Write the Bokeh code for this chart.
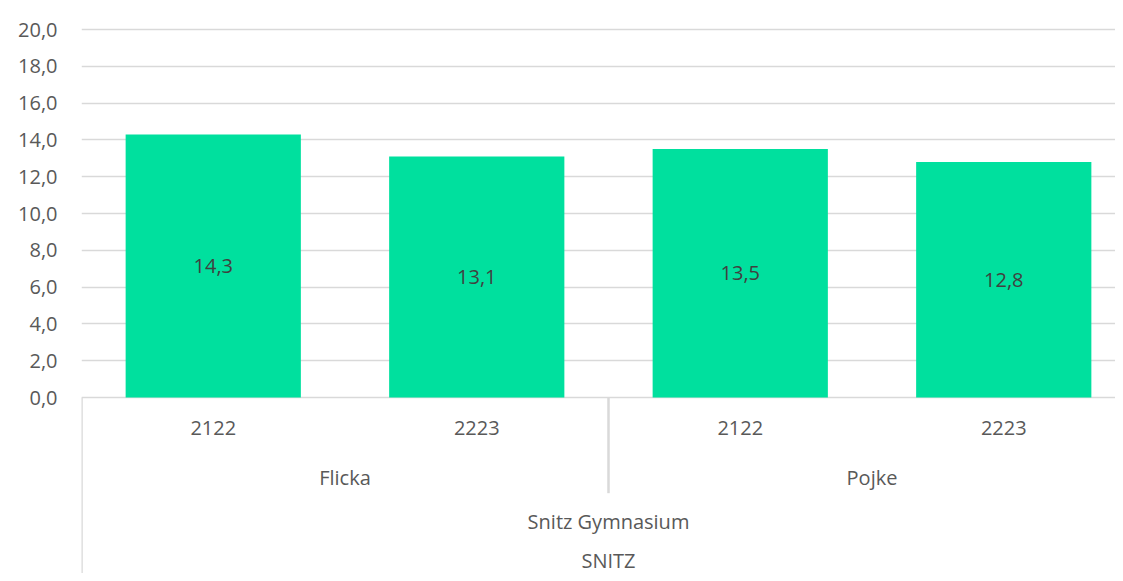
from bokeh.plotting import figure
from bokeh.models import Range1d, FixedTicker, ColumnDataSource
from bokeh.core.properties import value
from bokeh.embed import file_html
from bokeh.resources import INLINE

# ---- data ----
years = ["2122", "2223", "2122", "2223"]
groups = ["Flicka", "Flicka", "Pojke", "Pojke"]
school = "Snitz Gymnasium"
code = "SNITZ"
values = [14.3, 13.1, 13.5, 12.8]
y_ticks = [0, 2, 4, 6, 8, 10, 12, 14, 16, 18, 20]

FONT = "Open Sans"
TXT = "#595959"
GRID = "#d9d9d9"
BAR = "#00E09E"
FS = "20px"

W, H = 1115, 573
BL = 81
PX = 18.4          # px per unit
ZERO = 397          # zero line, px from figure top
CAT = 263.5         # px per category

n = len(values)
xc = [i + 0.5 for i in range(n)]
labels = [f"{v:.1f}".replace(".", ",") for v in values]

p = figure(width=W, height=H, output_backend="svg", toolbar_location=None,
           x_range=Range1d(0, (W - BL) / CAT),
           y_range=Range1d(-(H - ZERO) / PX, ZERO / PX),
           min_border_left=BL, min_border_right=0, min_border_top=0, min_border_bottom=0)
p.outline_line_color = None
p.background_fill_color = "white"
p.border_fill_color = "white"

# grid
p.xgrid.visible = False
p.ygrid.ticker = FixedTicker(ticks=y_ticks)
p.ygrid.grid_line_color = GRID
p.ygrid.grid_line_width = 1.5

p.xaxis.visible = False
yax = p.yaxis[0]
yax.ticker = FixedTicker(ticks=y_ticks)
yax.major_label_overrides = {t: f"{t:.1f}".replace(".", ",") for t in y_ticks}
yax.axis_line_color = None
yax.major_tick_line_color = None
yax.minor_tick_line_color = None
yax.major_label_text_font = FONT
yax.major_label_text_font_size = FS
yax.major_label_text_color = TXT
yax.major_label_standoff = 18

# bars
src = ColumnDataSource(dict(x=xc, top=values, half=[v / 2 for v in values], lab=labels,
                            yr=years, grp=groups))
p.vbar(x="x", top="top", bottom=0, width=0.665, source=src, fill_color=BAR, line_color=None)
p.text(x="x", y="half", text="lab", source=src, text_align="center", text_baseline="middle",
       text_font=value(FONT), text_font_size=FS, text_color="#404040")

# hierarchical category labels
p.text(x="x", y=-1.68, text="yr", source=src, text_align="center", text_baseline="middle",
       text_font=value(FONT), text_font_size=FS, text_color=TXT)

grp_names = []
grp_pos = []
for g in groups:
    if g not in grp_names:
        grp_names.append(g)
for g in grp_names:
    idx = [i for i, gg in enumerate(groups) if gg == g]
    grp_pos.append((min(idx) + max(idx) + 1) / 2)
p.text(x=grp_pos, y=[-4.35] * len(grp_pos), text=grp_names, text_align="center",
       text_baseline="middle", text_font=value(FONT), text_font_size=FS, text_color=TXT)
p.text(x=[n / 2], y=[-6.75], text=[school], text_align="center", text_baseline="middle",
       text_font=value(FONT), text_font_size=FS, text_color=TXT)
p.text(x=[n / 2], y=[-8.85], text=[code], text_align="center", text_baseline="middle",
       text_font=value(FONT), text_font_size=FS, text_color=TXT)

# separator lines
bounds = [0]
for i in range(1, n):
    if groups[i] != groups[i - 1]:
        bounds.append(i)
p.segment(x0=[0], y0=[0], x1=[0], y1=[-20], line_color=GRID, line_width=2.5)
p.segment(x0=bounds[1:], y0=[0] * (len(bounds) - 1), x1=bounds[1:], y1=[-5.2] * (len(bounds) - 1),
          line_color=GRID, line_width=2.5)

open("out.html", "w").write(file_html(p, INLINE))
